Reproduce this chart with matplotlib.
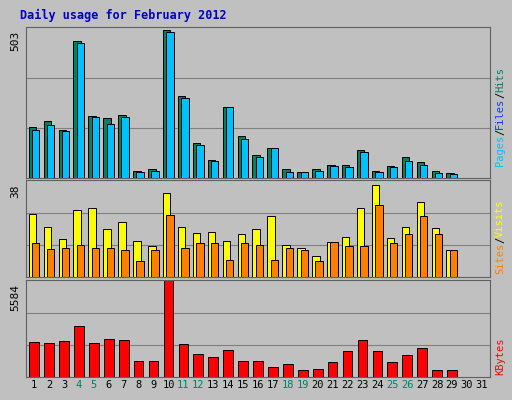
import matplotlib
matplotlib.use("Agg")
import matplotlib.pyplot as plt
import numpy as np

days = list(range(1, 32))
weekend = [4, 5, 11, 12, 18, 19, 25, 26]
# top panel (max 503)
hits = [171,191,161,459,208,201,211,23,30,496,275,117,60,238,141,77,101,30,20,30,44,44,94,23,40,70,54,23,18]
pages = [161,178,158,452,204,181,204,20,23,489,268,111,57,238,131,70,101,20,20,23,40,37,87,20,37,57,44,17,12]
# middle panel (max 38)
visits = [25,19.6,14.9,26.3,27,18.8,21.5,14.1,12.2,32.9,19.6,17.2,17.6,14.1,16.9,18.8,23.9,12.5,11.4,8.2,13.7,15.7,27,36.4,15.3,19.6,29.4,19.2,10.6]
sites = [13.3,10.9,11.4,12.5,11.4,11.4,10.6,6.3,10.6,24.3,11.4,13.3,13.3,6.7,13.3,12.5,6.7,11.4,10.6,6.3,13.7,12.2,12.2,28.2,13.3,16.9,23.9,16.9,10.6]
# bottom panel (max 5584)
kbytes = [2041,1981,2101,2942,1981,2221,2161,900,900,5584,1921,1321,1141,1561,900,900,600,780,420,480,840,1501,2161,1501,840,1261,1681,420,420]

bg = "#C0C0C0"
fig = plt.figure(figsize=(5.12, 4.0), dpi=100, facecolor=bg)
W, H = 512, 400
def ax_at(top, bot):
    return fig.add_axes([26/W, 1-bot/H, (490-26)/W, (bot-top)/H], facecolor=bg)

x = np.arange(1, 30)
axs = []
panels = [(27, 178, 503, [(hits, "#008060", -0.12), (pages, "#00C0FF", 0.1)]),
          (180, 277, 38, [(visits, "#FFFF00", -0.12), (sites, "#FF8000", 0.1)]),
          (280, 377, 5584, [(kbytes, "#FF0000", 0.0)])]
for top, bot, mx, series in panels:
    ax = ax_at(top, bot)
    for k in (1/3, 2/3):
        ax.axhline(mx*k, color="#808080", lw=0.8, zorder=0)
    for vals, col, off in series:
        w = 0.5 if len(series) > 1 else 0.65
        ax.bar(x + off, vals, width=w, color=col, edgecolor="black", lw=0.7, zorder=2)
    ax.set_xlim(0.45, 31.55)
    ax.set_ylim(0, mx*1.005)
    ax.set_xticks([]); ax.set_yticks([])
    for s in ax.spines.values():
        s.set_color("#606060")
    fig.text(20/W, 1-(top+4)/H, str(mx), rotation=90, ha="right", va="top",
             fontsize=8, family="DejaVu Sans Mono")
    axs.append(ax)

for d in days:
    axs[2].text(d, -0.03, str(d), transform=axs[2].get_xaxis_transform(), ha="center", va="top",
                fontsize=7.5, family="DejaVu Sans Mono",
                color="#008060" if d in weekend else "black")

fig.text(20/W, 1-15/H, "Daily usage for February 2012", color="#0000C0", fontsize=8.5,
         fontweight="bold", family="DejaVu Sans Mono", va="center")

def right_label(parts, ybot):
    # reads bottom to top
    y = ybot
    for txt, col in parts:
        fig.text(500/W, 1-y/H, txt, rotation=90, color=col, fontsize=7.5,
                 family="DejaVu Sans Mono", ha="center", va="bottom")
        y -= len(txt)*6.2
right_label([("Pages", "#00C0FF"), ("/", "black"), ("Files", "#0040FF"), ("/", "black"), ("Hits", "#008060")], 166)
right_label([("Sites", "#FF8000"), ("/", "black"), ("Visits", "#FFFF00")], 274)
right_label([("KBytes", "#FF0000")], 375)

fig.savefig("out.png", dpi=100, facecolor=bg)
